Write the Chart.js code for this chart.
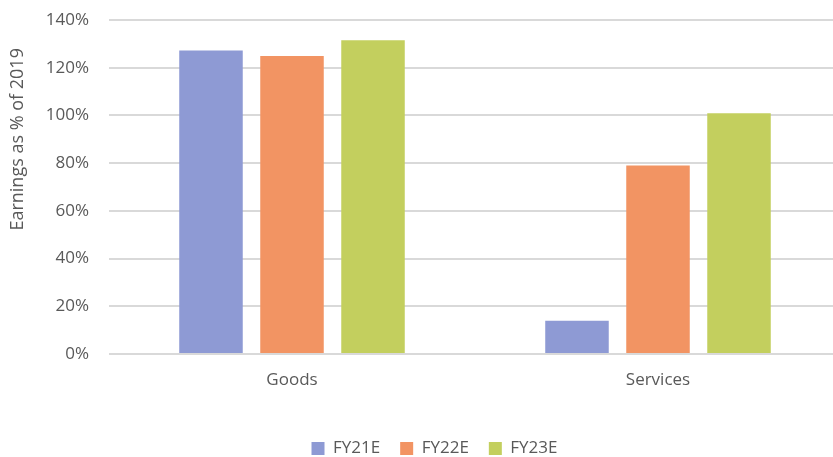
<!DOCTYPE html>
<html>
<head>
<meta charset="utf-8">
<script src="https://cdn.jsdelivr.net/npm/chart.js@4"></script>
<style>
  html, body { margin: 0; padding: 0; background: #fff; overflow: hidden; }
  #wrap { width: 841px; height: 457px; }
</style>
</head>
<body>
<div id="wrap"><canvas id="graphique" width="841" height="457"></canvas></div>
<script>
// Catégories et séries
const categories = ["Goods", "Services"]
const seriesNames = ["FY21E", "FY22E", "FY23E"]
const fy21 = [127.2, 13.9]
const fy22 = [124.9, 79.0]
const fy23 = [131.5, 100.9]
const yTicks = [0, 20, 40, 60, 80, 100, 120, 140]

const couleurs = ["#8e9ad4", "#f29463", "#c3cf5e"]
const police = "'Open Sans', sans-serif"
const gris = "#595959"

const data = {
  labels: categories,
  datasets: [fy21, fy22, fy23].map((valeurs, i) => ({
    label: seriesNames[i],
    data: valeurs,
    backgroundColor: couleurs[i],
    borderWidth: 0,
    categoryPercentage: 0.664,
    barPercentage: 0.784,
  })),
}

const config = {
  type: "bar",
  data: data,
  options: {
    responsive: false,
    animation: false,
    // gauche : recentre la légende ; bas négatif : la légende descend près du bord
    layout: { padding: { top: 20, left: 28, right: 0, bottom: -10 } },
    plugins: {
      tooltip: { enabled: false },
      legend: {
        position: "bottom",
        labels: {
          color: gris,
          font: { family: police, size: 17 },
          boxWidth: 13,
          boxHeight: 13,
          padding: 20,
        },
      },
    },
    scales: {
      x: {
        grid: { display: false },
        border: { display: false },
        ticks: { color: gris, font: { family: police, size: 17 }, padding: 8 },
        afterFit: (scale) => {
          scale.height = 66
        },
      },
      y: {
        min: 0,
        max: 140,
        afterBuildTicks: (axis) => {
          axis.ticks = yTicks.map((v) => ({ value: v }))
        },
        afterFit: (scale) => {
          scale.width = 81
          scale.paddingTop = 0
          scale.paddingBottom = 0
        },
        grid: { color: "#d9d9d9", lineWidth: 2, drawTicks: false },
        border: { display: false },
        ticks: {
          color: gris,
          font: { family: police, size: 17 },
          padding: 20,
          callback: (v) => v + "%",
        },
        title: {
          display: true,
          text: "Earnings as % of 2019      ",
          align: "end",
          color: gris,
          font: { family: police, size: 18 },
          padding: { top: -21, bottom: 0 },
        },
      },
    },
  },
}

new Chart(document.querySelector("#graphique"), config)
</script>
</body>
</html>
